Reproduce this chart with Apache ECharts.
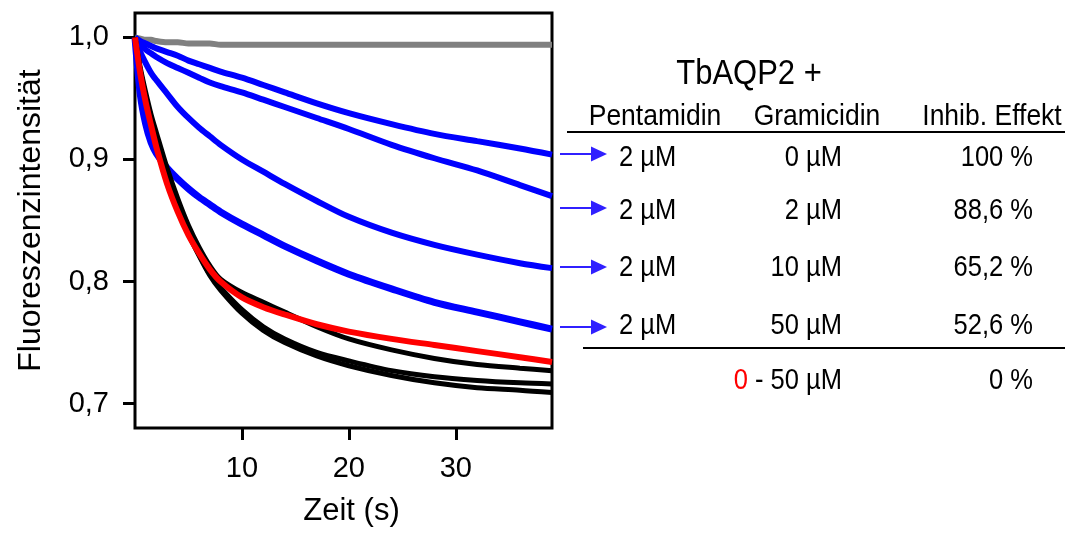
<!DOCTYPE html>
<html>
<head>
<meta charset="utf-8">
<script src="https://cdn.jsdelivr.net/npm/echarts@6/dist/echarts.min.js"></script>
<style>
html,body{margin:0;padding:0;background:#fff;}
#chart{width:1065px;height:541px;}
</style>
</head>
<body>
<div id="chart"></div>
<script>
// ---- data ----
var time   = [0, 0.5, 1, 1.5, 2, 3, 4, 5, 6, 7, 8, 10, 12, 14, 17, 20, 24, 28, 32, 36, 39];
var gray   = [1.000,0.999,0.998,0.998,0.997,0.996,0.996,0.995,0.995,0.995,0.994,0.994,0.994,0.994,0.994,0.994,0.994,0.994,0.994,0.994,0.994];
var blue1  = [1.000,0.997,0.995,0.993,0.991,0.988,0.985,0.981,0.978,0.975,0.972,0.967,0.961,0.955,0.946,0.938,0.929,0.921,0.915,0.909,0.904];
var blue2  = [1.000,0.995,0.990,0.987,0.984,0.979,0.975,0.971,0.967,0.963,0.960,0.955,0.949,0.943,0.934,0.925,0.912,0.901,0.891,0.879,0.870];
var blue3  = [1.000,0.988,0.979,0.971,0.965,0.954,0.943,0.934,0.926,0.919,0.912,0.900,0.890,0.880,0.866,0.853,0.840,0.830,0.822,0.815,0.811];
var blue4  = [1.000,0.953,0.929,0.914,0.905,0.893,0.884,0.876,0.869,0.863,0.857,0.847,0.838,0.829,0.817,0.806,0.794,0.783,0.775,0.767,0.761];
var black1 = [1.000,0.975,0.955,0.937,0.922,0.893,0.868,0.846,0.828,0.813,0.802,0.791,0.783,0.775,0.763,0.753,0.744,0.737,0.732,0.729,0.727];
var black2 = [1.000,0.973,0.952,0.933,0.916,0.886,0.861,0.840,0.822,0.806,0.795,0.777,0.763,0.753,0.742,0.735,0.727,0.722,0.719,0.717,0.716];
var black3 = [1.000,0.972,0.951,0.932,0.915,0.885,0.860,0.839,0.821,0.805,0.793,0.774,0.760,0.750,0.739,0.731,0.723,0.717,0.713,0.711,0.709];
var red    = [1.000,0.970,0.947,0.928,0.910,0.880,0.857,0.838,0.823,0.810,0.800,0.787,0.779,0.773,0.765,0.759,0.753,0.748,0.743,0.738,0.734];

var yTicks = [0.7, 0.8, 0.9, 1.0];
var xTicks = [10, 20, 30];

// table texts
var tableTitle = 'TbAQP2 +';
var headers = ['Pentamidin', 'Gramicidin', 'Inhib. Effekt'];
var pentamidin = ['2 µM', '2 µM', '2 µM', '2 µM'];
var gramicidin = ['0 µM', '2 µM', '10 µM', '50 µM'];
var effekt = ['100 %', '88,6 %', '65,2 %', '52,6 %'];
var controlGramicidin = ['0', ' - 50 µM'];
var controlEffekt = '0 %';

// ---- layout ----
var FONT = 'Liberation Sans, Arial, Helvetica, sans-serif';
var rowY = [158, 211, 268, 326];
var arrowY = [154, 208, 267, 327];
var controlY = 381;
var SY = 1.12; // slight vertical stretch of table text, as in the reference
var HS = 26.5, VS = 25.5;

function pairs(vals) { return time.map(function (t, i) { return [t, vals[i]]; }); }
function line(name, vals, color, w) {
  return { name: name, type: 'line', data: pairs(vals), showSymbol: false, smooth: 0.3,
           lineStyle: { color: color, width: w }, silent: true, animation: false };
}
function txt(s, x, y, align, size, extra) {
  var st = { text: s, x: 0, y: 0, align: align, verticalAlign: 'middle', font: size + 'px ' + FONT, fill: '#000' };
  if (extra) for (var k in extra) st[k] = extra[k];
  return { type: 'text', x: x, y: y, scaleY: SY, style: st };
}

var graphics = [];
graphics.push(txt(tableTitle, 749, 74, 'center', 31));
var hx = [655, 817, 992];
headers.forEach(function (h, i) { graphics.push(txt(h, hx[i], 117, 'center', HS)); });
graphics.push({ type: 'line', shape: { x1: 567, y1: 132, x2: 1065, y2: 132 }, style: { stroke: '#000', lineWidth: 2 } });
for (var i = 0; i < 4; i++) {
  graphics.push(txt(pentamidin[i], 619, rowY[i], 'left', VS));
  graphics.push(txt(gramicidin[i], 842, rowY[i], 'right', VS));
  graphics.push(txt(effekt[i], 1033, rowY[i], 'right', VS));
  graphics.push({ type: 'line', shape: { x1: 560, y1: arrowY[i], x2: 594, y2: arrowY[i] }, style: { stroke: '#3020ff', lineWidth: 2 } });
  graphics.push({ type: 'polygon', shape: { points: [[591, arrowY[i] - 7.5], [607, arrowY[i]], [591, arrowY[i] + 7.5]] }, style: { fill: '#3020ff' } });
}
graphics.push({ type: 'line', shape: { x1: 583, y1: 348, x2: 1065, y2: 348 }, style: { stroke: '#000', lineWidth: 2 } });
graphics.push(txt('{r|' + controlGramicidin[0] + '}{k|' + controlGramicidin[1] + '}', 842, controlY, 'right', VS, {
  rich: { r: { fill: '#ff0000', font: VS + 'px ' + FONT }, k: { fill: '#000', font: VS + 'px ' + FONT } } }));
graphics.push(txt(controlEffekt, 1033, controlY, 'right', VS));

var chart = echarts.init(document.getElementById('chart'), null, { renderer: 'canvas' });
chart.setOption({
  animation: false,
  backgroundColor: '#fff',
  grid: { left: 135, top: 13, width: 417, height: 415, show: true, borderColor: '#000', borderWidth: 3, backgroundColor: 'transparent' },
  xAxis: {
    type: 'value', min: 0, max: 39,
    name: 'Zeit (s)', nameLocation: 'middle', nameGap: 68,
    nameTextStyle: { fontFamily: FONT, fontSize: 31, color: '#000', padding: [0, 0, 0, 16] },
    axisLine: { show: false },
    splitLine: { show: false },
    axisTick: { show: true, length: 12, lineStyle: { color: '#000', width: 3 }, customValues: xTicks },
    axisLabel: { customValues: xTicks, margin: 26, fontFamily: FONT, fontSize: 29, color: '#000' }
  },
  yAxis: {
    type: 'value', min: 0.68, max: 1.02,
    name: 'Fluoreszenzintensität', nameLocation: 'middle', nameGap: 88, nameRotate: 90,
    nameTextStyle: { fontFamily: FONT, fontSize: 32, color: '#000' },
    axisLine: { show: false },
    splitLine: { show: false },
    axisTick: { show: true, length: 12, lineStyle: { color: '#000', width: 3 }, customValues: yTicks },
    axisLabel: { customValues: yTicks, margin: 26, fontFamily: FONT, fontSize: 29, color: '#000',
      formatter: function (v) { return v.toFixed(1).replace('.', ','); } }
  },
  series: [
    line('gray', gray, '#808080', 6),
    line('blue1', blue1, '#0000ff', 6),
    line('blue2', blue2, '#0000ff', 6),
    line('blue3', blue3, '#0000ff', 6),
    line('blue4', blue4, '#0000ff', 7),
    line('black3', black3, '#000000', 5),
    line('black2', black2, '#000000', 5),
    line('black1', black1, '#000000', 5),
    line('red', red, '#ff0000', 6)
  ],
  graphic: graphics
});
</script>
</body>
</html>
